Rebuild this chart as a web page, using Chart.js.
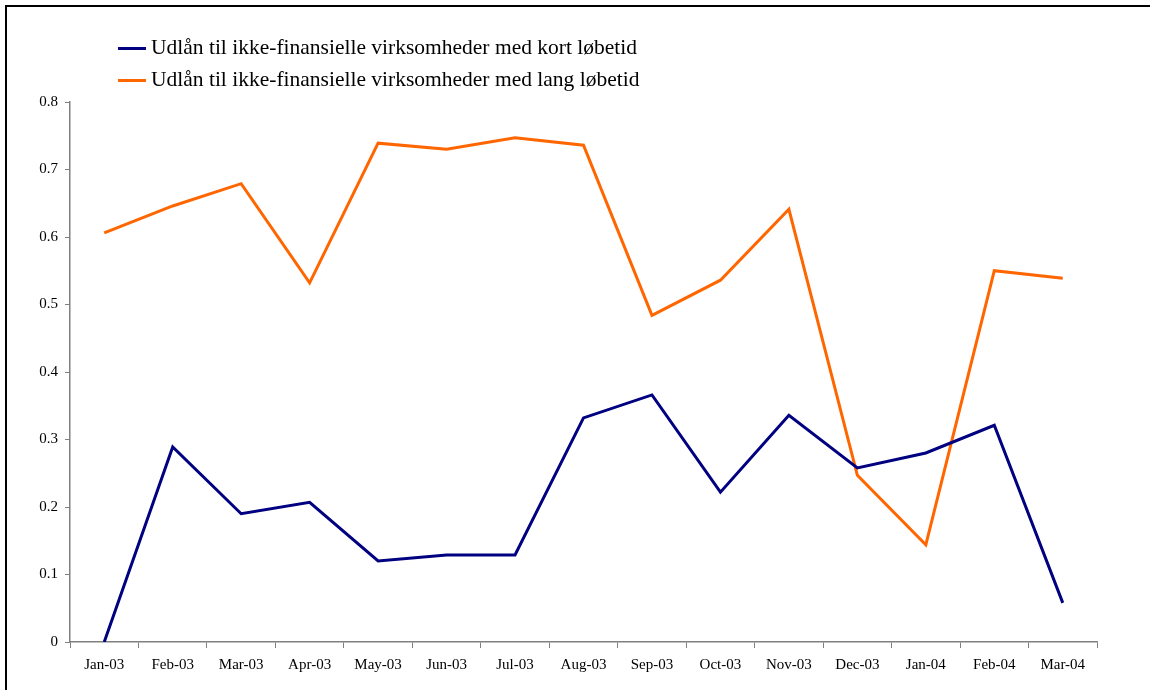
<!DOCTYPE html>
<html>
<head>
<meta charset="utf-8">
<script src="https://cdn.jsdelivr.net/npm/chart.js@4/dist/chart.umd.min.js"></script>
<style>
  html, body { margin: 0; padding: 0; background: #fff; }
  #wrap { position: relative; width: 1150px; height: 690px; overflow: hidden; }
  #frame { position: absolute; left: 5px; top: 5px; width: 1200px; height: 800px; border-left: 2px solid #000; border-top: 2px solid #000; pointer-events: none; }
  #chart { position: absolute; left: 0; top: 0; }
  #legend { position: absolute; left: 118px; top: 31px; font-family: "Liberation Serif", "Times New Roman", serif; font-size: 21.5px; color: #000; }
  .item { position: relative; height: 32px; line-height: 32px; white-space: nowrap; }
  .swatch { display: inline-block; width: 28px; height: 3px; vertical-align: middle; margin-right: 5px; position: relative; top: -1px; }
</style>
</head>
<body>
<div id="wrap">
  <canvas id="chart" width="1150" height="690"></canvas>
  <div id="frame"></div>
  <div id="legend"></div>
</div>
<script>
const categories = ["Jan-03","Feb-03","Mar-03","Apr-03","May-03","Jun-03","Jul-03","Aug-03","Sep-03","Oct-03","Nov-03","Dec-03","Jan-04","Feb-04","Mar-04"];
const seriesNames = ["Udlån til ikke-finansielle virksomheder med kort løbetid","Udlån til ikke-finansielle virksomheder med lang løbetid"];
const kortValues = [0.000,0.289,0.190,0.207,0.120,0.129,0.129,0.332,0.366,0.222,0.336,0.258,0.280,0.321,0.058];
const langValues = [0.606,0.646,0.679,0.532,0.739,0.730,0.747,0.736,0.484,0.536,0.641,0.247,0.144,0.550,0.539];
const seriesColors = ["#000080","#FF6600"];
const yTicks = [0,0.1,0.2,0.3,0.4,0.5,0.6,0.7,0.8];

const legendEl = document.getElementById('legend');
seriesNames.forEach((n,i)=>{
  const d = document.createElement('div'); d.className='item';
  const s = document.createElement('span'); s.className='swatch'; s.style.background=seriesColors[i];
  d.appendChild(s); d.appendChild(document.createTextNode(n));
  legendEl.appendChild(d);
});

const font = { family: '"Liberation Serif", "Times New Roman", serif', size: 15 };
new Chart(document.getElementById('chart'), {
  type: 'line',
  data: {
    labels: categories,
    datasets: [
      { label: seriesNames[0], data: kortValues, borderColor: seriesColors[0], borderWidth: 3, pointRadius: 0, tension: 0, fill: false },
      { label: seriesNames[1], data: langValues, borderColor: seriesColors[1], borderWidth: 3, pointRadius: 0, tension: 0, fill: false }
    ]
  },
  options: {
    responsive: false,
    animation: false,
    devicePixelRatio: 1,
    layout: { padding: { top: 102, right: 53, left: 0, bottom: 0 } },
    plugins: { legend: { display: false }, tooltip: { enabled: false } },
    scales: {
      x: {
        offset: true,
        grid: { offset: true, drawOnChartArea: false, drawTicks: true, tickLength: 6, color: '#808080', lineWidth: 1 },
        border: { color: '#808080', width: 1.5 },
        ticks: { color: '#000', font, padding: 8, maxRotation: 0, autoSkip: false },
        afterFit: s => { s.height = 48; }
      },
      y: {
        min: 0, max: 0.8,
        afterBuildTicks: s => { s.ticks = yTicks.map(v => ({ value: v })); },
        grid: { drawOnChartArea: false, drawTicks: true, tickLength: 5, color: '#808080', lineWidth: 1 },
        border: { color: '#808080', width: 1.5 },
        ticks: { color: '#000', font, padding: 7, callback: v => v === 0 ? '0' : Number(v).toFixed(1) },
        afterFit: s => { s.width = 70; }
      }
    }
  }
});
</script>
</body>
</html>
